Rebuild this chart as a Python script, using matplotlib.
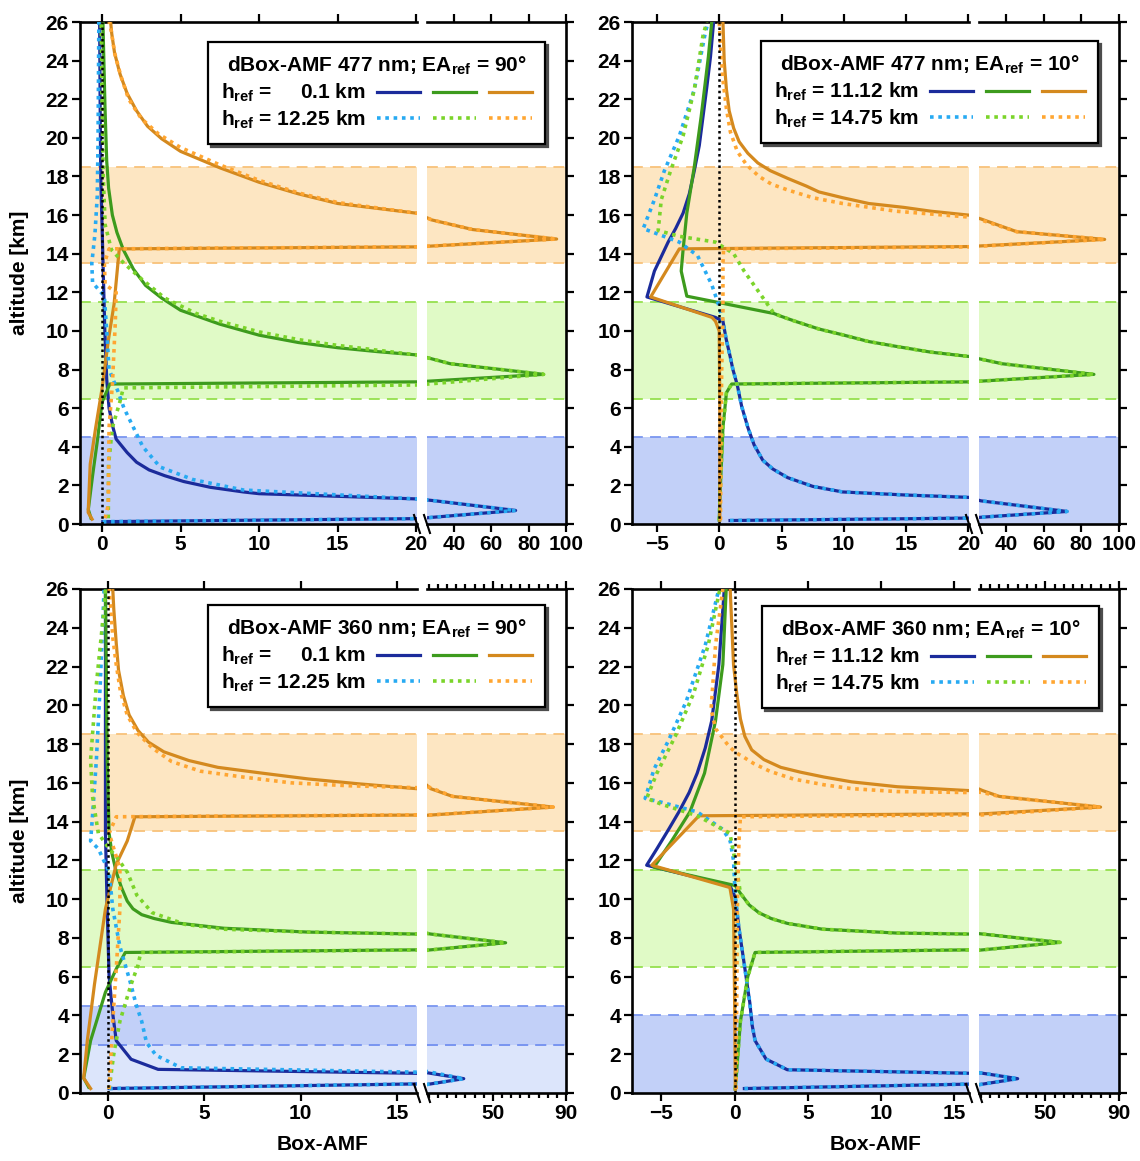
import matplotlib.pyplot as plt
from matplotlib.lines import Line2D
from matplotlib.legend_handler import HandlerTuple
from matplotlib.ticker import MultipleLocator

plt.rcParams['font.family'] = ['Liberation Sans', 'DejaVu Sans']
plt.rcParams['font.weight'] = 'bold'
plt.rcParams['font.size'] = 15
plt.rcParams['mathtext.fontset'] = 'custom'
plt.rcParams['mathtext.rm'] = 'Liberation Sans:bold'
plt.rcParams['mathtext.it'] = 'Liberation Sans:bold'
plt.rcParams['mathtext.bf'] = 'Liberation Sans:bold'
plt.rcParams['axes.linewidth'] = 1.9

# ---------------- data (Box-AMF x, altitude z in km) ----------------
# panel 1: 477 nm, EA_ref = 90 deg, h_ref = 0.1 km (solid) / 12.25 km (dotted)
p1_blue_x = [0.05, 73, 30, 20, 10, 9, 6.9, 5.2, 4.0, 3.0, 2.2, 1.6, 0.9, 0.7, 0.45, 0.3, 0.18, 0.05, -0.08, -0.12, -0.15]
p1_blue_z = [0.12, 0.70, 1.20, 1.30, 1.57, 1.66, 1.90, 2.2, 2.5, 2.8, 3.2, 3.7, 4.4, 5.0, 6.0, 7.5, 10, 14, 18, 22, 26]
p1_ltblue_x = [0.05, 73, 30, 20, 9, 5.8, 3.7, 2.6, 2.0, 1.4, 1.0, 0.45, 0.3, 0.15, -0.6, -0.65, -0.45, -0.3, -0.25, -0.2]
p1_ltblue_z = [0.12, 0.70, 1.20, 1.30, 1.76, 2.3, 2.95, 4.0, 5.0, 6.0, 6.9, 8.0, 10.0, 11.8, 12.5, 13.5, 15.0, 17.0, 20.0, 26.0]
p1_green_x = [-0.7, -0.87, -0.6, -0.28, 0.0, 0.5, 88, 38, 20, 17.5, 15, 12.5, 10, 7.5, 5, 3.8, 2.77, 2.0, 1.36,
              0.95, 0.66, 0.42, 0.3, 0.19, 0.06]
p1_green_z = [0.3, 0.75, 2.5, 4.4, 6.3, 7.25, 7.75, 8.3, 8.76, 8.93, 9.13, 9.4, 9.78, 10.35, 11.07, 11.7, 12.36, 13.2,
              14.2, 15.1, 16.0, 17.4, 18.8, 21.6, 26.0]
p1_ltgreen_x = [0.4, 0.42, 0.66, 1.13, 1.36, 88, 38, 20, 15, 12.5, 10, 7.5, 6, 4, 2.5, 1.4, 0.6, 0.2, 0.08, 0.0, -0.05]
p1_ltgreen_z = [0.3, 3.1, 5.0, 6.3, 7.05, 7.75, 8.3, 8.76, 9.25, 9.55, 9.95, 10.5, 10.9, 11.7, 12.7, 13.5, 14.2, 15.5,
                18.0, 22.0, 26.0]
p1_orange_x = [-0.63, -0.88, -0.75, -0.4, 0.0, 0.42, 0.77, 1.1, 95, 50, 28, 20, 17.5, 15, 12.5, 10, 7.5, 5, 3.8, 2.9,
               2.2, 1.6, 1.15, 0.8, 0.62, 0.55]
p1_orange_z = [0.25, 0.6, 3.1, 5.0, 7.0, 9.6, 11.4, 14.25, 14.76, 15.25, 15.75, 16.1, 16.35, 16.6, 17.1, 17.7, 18.45,
               19.3, 19.95, 20.6, 21.4, 22.3, 23.3, 24.4, 25.4, 26.0]
p1_ltorange_x = [0.2, 0.4, 0.45, 0.66, 0.85, 0.9, 0.2, 0.15, 0.45, 95, 50, 28, 20, 15, 12.5, 10, 7.5, 5, 3.6, 2.5,
                 1.7, 1.2, 0.8, 0.6, 0.45]
p1_ltorange_z = [0.3, 1.0, 5.0, 7.2, 10.5, 12.0, 12.4, 13.5, 14.25, 14.76, 15.25, 15.75, 16.1, 16.65, 17.15, 17.8,
                 18.6, 19.5, 20.2, 21.0, 22.0, 23.2, 24.4, 25.5, 26.0]

# panel 2: 477 nm, EA_ref = 10 deg, h_ref = 11.12 km (solid) / 14.75 km (dotted)
p2_blue_x = [0.87, 72.4, 26.7, 20, 15, 9.9, 7.5, 5.5, 4.3, 3.5, 2.8, 2.3, 1.8, 1.45, 1.1, 0.87, 0.55, 0.3, -0.3,
             -5.8, -5.2, -4.1, -3.5, -2.9, -2.4, -2.0, -1.6, -1.3, -1.0, -0.7, -0.45]
p2_blue_z = [0.18, 0.65, 1.2, 1.38, 1.5, 1.66, 1.95, 2.4, 2.85, 3.3, 4.1, 5.0, 6.1, 7.2, 8.0, 8.7, 9.6, 10.5, 10.7,
             11.76, 13.1, 14.6, 15.3, 16.1, 17.1, 18.3, 19.6, 21.1, 22.6, 24.2, 26]
p2_ltblue_x = [0.87, 72.4, 26.7, 20, 15, 9.9, 7.5, 5.5, 4.3, 3.5, 2.8, 2.3, 1.8, 1.45, 1.1, 0.87, 0.55, 0.3, 0.0,
               -0.6, -1.74, -3.2, -6.1, -5.2, -4.4, -3.2, -2.0, -1.16, -0.9]
p2_ltblue_z = [0.18, 0.65, 1.2, 1.38, 1.5, 1.66, 1.95, 2.4, 2.85, 3.3, 4.1, 5.0, 6.1, 7.2, 8.0, 8.7, 9.6, 10.5, 11.26,
               12.4, 13.9, 14.6, 15.3, 16.8, 18.3, 20.1, 22.5, 25.3, 26]
p2_green_x = [0.0, 0.1, 0.3, 0.58, 1.0, 86.7, 38, 20, 17, 14.2, 12, 9.9, 8, 6.1, 5, 4.4, -2.6, -3.05, -2.9, -2.6,
              -2.0, -1.45, -0.87, -0.6]
p2_green_z = [0.2, 2.0, 5.0, 6.8, 7.25, 7.75, 8.3, 8.68, 8.9, 9.2, 9.45, 9.8, 10.1, 10.5, 10.75, 10.9, 11.8, 13.1,
              14.2, 16.1, 18.5, 21.1, 24.2, 26]
p2_ltgreen_x = [0.0, 0.1, 0.3, 0.58, 1.0, 86.7, 38, 20, 17, 14.2, 12, 9.9, 8, 6.1, 5, 4.4, 3.2, 2.0, 1.16, -0.3,
                -3.2, -4.9, -4.65, -3.9, -2.9, -2.0, -1.3, -1.0]
p2_ltgreen_z = [0.2, 2.0, 5.0, 6.8, 7.25, 7.75, 8.3, 8.68, 8.9, 9.2, 9.45, 9.8, 10.1, 10.5, 10.75, 10.9, 12.0, 13.1,
                14.0, 14.6, 14.9, 15.2, 16.8, 18.3, 20.1, 22.5, 25.3, 26]
p2_orange_x = [0.05, 0.05, 0.0, -0.3, -0.58, -5.5, -3.2, 92.4, 45.7, 26.7, 20, 17, 14.8, 12, 9.9, 8, 7.0, 5.5, 4.1,
               3.1, 2.3, 1.6, 1.16, 0.8, 0.58, 0.4, 0.3]
p2_orange_z = [0.2, 6.0, 10.0, 10.5, 10.7, 11.76, 14.25, 14.74, 15.14, 15.8, 16.0, 16.2, 16.4, 16.6, 16.9, 17.2, 17.5,
               17.9, 18.3, 18.7, 19.2, 19.8, 20.5, 21.4, 22.5, 24.0, 26]
p2_ltorange_x = [0.1, 0.15, 0.2, 0.3, 0.3, 0.35, 92.4, 45.7, 26.7, 20, 14.2, 9.9, 7.5, 5.5, 4.2, 3.2, 2.2, 1.45, 0.9,
                 0.58, 0.3, 0.15, 0.0]
p2_ltorange_z = [0.2, 5.0, 8.0, 11.0, 13.5, 14.25, 14.74, 15.14, 15.75, 15.9, 16.2, 16.6, 16.9, 17.3, 17.6, 18.0, 18.6,
                 19.3, 20.3, 21.5, 23.0, 24.4, 26]

# panel 3: 360 nm, EA_ref = 90 deg, h_ref = 0.1 km (solid) / 12.25 km (dotted)
p3_blue_x = [0.06, 34.1, 2.6, 1.2, 0.43, 0.25, 0.06, -0.04, -0.13, -0.13, -0.13]
p3_blue_z = [0.23, 0.74, 1.22, 1.74, 2.7, 4.07, 6.0, 9.5, 13.4, 19.2, 26]
p3_ltblue_x = [0.06, 34.1, 3.8, 2.5, 2.0, 1.75, 1.45, 1.19, 0.9, 0.62, 0.25, 0.06, -0.5, -0.9, -0.8, -0.6, -0.4, -0.2]
p3_ltblue_z = [0.23, 0.74, 1.3, 1.94, 2.6, 3.7, 4.6, 5.6, 6.6, 7.55, 9.5, 11.4, 12.6, 13.0, 14.3, 17.2, 21.1, 26]
p3_green_x = [-1.0, -1.26, -0.9, -0.13, 0.43, 0.9, 57, 16, 10.4, 6, 3.3, 2.4, 1.75, 1.3, 1.0, 0.7, 0.43, 0.2, 0.06,
              -0.04, -0.13]
p3_green_z = [0.3, 0.77, 2.7, 5.2, 6.4, 7.25, 7.75, 8.2, 8.3, 8.5, 8.8, 9.0, 9.2, 9.5, 9.9, 10.6, 11.4, 12.4, 13.4,
              17.2, 26]
p3_ltgreen_x = [0.06, 0.3, 0.62, 1.2, 1.56, 1.7, 57, 16, 10.4, 6, 4.0, 2.3, 1.5, 1.0, 0.43, 0.06, -0.5, -0.8, -0.9,
                -0.6, -0.2, -0.13]
p3_ltgreen_z = [0.2, 2.0, 3.7, 5.6, 6.6, 7.25, 7.75, 8.2, 8.3, 8.45, 8.7, 9.3, 10.2, 11.4, 12.2, 12.6, 13.4, 15.3,
                17.2, 21.1, 25.0, 26]
p3_orange_x = [-0.9, -1.26, -1.07, -0.7, -0.13, 0.43, 1.0, 1.4, 83, 28, 16, 13, 10.4, 8, 5.7, 4.2, 2.9, 2.1, 1.56,
               1.1, 0.8, 0.55, 0.43, 0.3, 0.25]
p3_orange_z = [0.23, 0.77, 2.7, 5.6, 9.5, 11.8, 13.0, 14.25, 14.75, 15.3, 15.7, 15.95, 16.2, 16.5, 16.8, 17.15, 17.6,
               18.1, 18.7, 19.5, 20.5, 21.8, 23.2, 25.0, 26]
p3_ltorange_x = [0.06, 0.25, 0.43, 0.62, 0.62, 0.43, 0.06, 0.43, 83, 28, 16, 12.5, 9.5, 7, 4.8, 3.3, 2.3, 1.5, 1.0,
                 0.65, 0.43, 0.25, 0.15, 0.06]
p3_ltorange_z = [0.2, 3.7, 6.4, 9.5, 11.6, 12.2, 13.4, 14.25, 14.75, 15.3, 15.75, 15.85, 16.0, 16.3, 16.6, 17.1, 17.8,
                 18.6, 19.5, 20.7, 22.1, 23.5, 25.0, 26]

# panel 4: 360 nm, EA_ref = 10 deg, h_ref = 11.12 km (solid) / 14.75 km (dotted)
p4_blue_x = [0.67, 35, 3.6, 2.15, 1.4, 1.2, 1.04, 0.67, 0.3, 0.05, -0.32, -6.0, -5.3, -4.5, -3.8, -3.1, -2.55, -2.0,
             -1.56, -1.07, -0.7]
p4_blue_z = [0.23, 0.74, 1.2, 1.75, 2.7, 3.5, 4.66, 6.6, 8.5, 10.1, 10.7, 11.75, 12.6, 13.6, 14.5, 15.5, 16.5, 17.8,
             19.2, 22.1, 26]
p4_ltblue_x = [0.67, 35, 3.6, 2.15, 1.4, 1.2, 1.04, 0.67, 0.3, 0.05, -0.07, -0.3, -0.8, -2.55, -5.0, -6.1, -5.5,
               -4.5, -3.3, -2.0, -1.07]
p4_ltblue_z = [0.23, 0.74, 1.2, 1.75, 2.7, 3.5, 4.66, 6.6, 8.5, 10.1, 12.0, 13.0, 13.6, 14.5, 15.0, 15.2, 16.7, 18.2,
               20.2, 23.1, 26]
p4_green_x = [0.05, 0.4, 0.9, 1.4, 58, 16, 11.1, 6, 3.6, 2.5, 1.66, 1.0, 0.4, 0.05, -5.5, -4.3, -3.05, -2.05, -1.3,
              -0.8, -0.57]
p4_green_z = [0.2, 3.7, 6.0, 7.25, 7.77, 8.2, 8.25, 8.45, 8.75, 9.0, 9.3, 9.7, 10.3, 10.7, 11.65, 13.0, 14.5, 16.5,
              19.2, 22.1, 26]
p4_ltgreen_x = [0.05, 0.4, 0.9, 1.4, 58, 16, 11.1, 6, 3.6, 2.5, 1.66, 1.0, 0.4, 0.17, -0.32, -2.55, -5.0, -6.0, -5.3,
                -4.05, -2.8, -1.8, -1.0]
p4_ltgreen_z = [0.2, 3.7, 6.0, 7.25, 7.77, 8.2, 8.25, 8.45, 8.75, 9.0, 9.3, 9.7, 10.3, 11.46, 13.4, 14.3, 14.9, 15.2,
                16.5, 18.4, 20.6, 23.1, 26]
p4_orange_x = [0.05, 0.0, -0.07, -0.32, -5.65, -2.43, 80, 25, 16, 11.1, 8, 6.1, 4.5, 3.15, 2.0, 1.17, 0.7, 0.4, 0.15,
               -0.07, -0.3]
p4_orange_z = [0.2, 5.0, 9.5, 10.6, 11.75, 14.3, 14.75, 15.3, 15.6, 15.8, 16.05, 16.3, 16.55, 16.8, 17.2, 17.7, 18.4,
               19.3, 20.6, 22.1, 26]
p4_ltorange_x = [0.1, 0.15, 0.2, 0.3, 0.4, 80, 25, 16, 11.1, 8, 6.1, 4, 2.4, 1.3, 0.67, 0.0, -0.5, -1.3, -1.6, -1.3,
                 -0.8]
p4_ltorange_z = [0.2, 5.0, 10.0, 13.0, 14.25, 14.75, 15.3, 15.5, 15.55, 15.7, 15.9, 16.2, 16.6, 17.0, 17.3, 17.6,
                 18.0, 18.8, 19.8, 23.1, 26]

# shaded altitude ranges (bottom, top)
bands_a = [(13.5, 18.5, 'orange'), (6.5, 11.5, 'green'), (0, 4.5, 'blue')]
bands_p3 = [(13.5, 18.5, 'orange'), (6.5, 11.5, 'green'), (2.5, 4.5, 'blue'), (0, 2.5, 'paleblue')]
bands_p4 = [(13.5, 18.5, 'orange'), (6.5, 11.5, 'green'), (0, 4.0, 'blue')]

legend_titles = [r'dBox-AMF 477 nm; EA$_{ref}$ = 90°', r'dBox-AMF 477 nm; EA$_{ref}$ = 10°',
                 r'dBox-AMF 360 nm; EA$_{ref}$ = 90°', r'dBox-AMF 360 nm; EA$_{ref}$ = 10°']
href_labels_90 = [r'h$_{ref}$ =     0.1 km', r'h$_{ref}$ = 12.25 km']
href_labels_10 = [r'h$_{ref}$ = 11.12 km', r'h$_{ref}$ = 14.75 km']

# ---------------- styling ----------------
c_blue, c_ltblue = '#1b2b9b', '#27aaf2'
c_green, c_ltgreen = '#3d9b1d', '#7bd42a'
c_orange, c_ltorange = '#d4891e', '#ffa632'
fill_col = {'orange': '#fde6c2', 'green': '#e0fac6', 'blue': '#c2d0f8', 'paleblue': '#dce5fb'}
edge_col = {'orange': '#f8c27a', 'green': '#95e04e', 'blue': '#7a96f0', 'paleblue': '#7a96f0'}
dots = (0, (1.0, 1.3))

W, H = 1140, 1161
fig = plt.figure(figsize=(W / 100, H / 100), dpi=100)


def add_ax(x0, x1, y0, y1):
    return fig.add_axes([x0 / W, 1 - y1 / H, (x1 - x0) / W, (y1 - y0) / H])


def draw_panel(ax_l, ax_r, series, bands):
    for a in (ax_l, ax_r):
        for lo, hi, name in bands:
            a.axhspan(lo, hi, color=fill_col[name], lw=0, zorder=0)
        for lo, hi, name in bands:
            for yv in (lo, hi):
                if 0 < yv < 26:
                    a.axhline(yv, color=edge_col[name], lw=1.3, ls=(0, (6, 4)), zorder=1)
        for x, z, col, dotted in series:
            if dotted:
                a.plot(x, z, color=col, lw=2.6, ls=dots, dash_capstyle='butt', zorder=4)
            else:
                a.plot(x, z, color=col, lw=2.3, zorder=3)
        a.set_ylim(0, 26)
        a.set_yticks(range(0, 27, 2))
    ax_l.axvline(0, color='k', lw=1.8, ls=dots, zorder=5)

    ax_l.spines['right'].set_visible(False)
    ax_r.spines['left'].set_visible(False)
    ax_l.tick_params(which='both', direction='out', top=True, right=False, width=1.6, pad=2)
    ax_l.tick_params(which='major', length=6)
    ax_r.tick_params(which='both', direction='out', top=True, left=False, right=True,
                     labelleft=False, width=1.6, pad=2)
    ax_r.tick_params(which='major', length=6)
    ax_r.tick_params(which='minor', length=3.5)

    # break marks on the bottom axis
    for a, xp in ((ax_l, 1), (ax_r, 0)):
        bb = a.get_position()
        dx = 3 / (bb.width * W)
        dy = 9 / (bb.height * H)
        a.plot([xp - dx, xp + dx], [dy, -dy], transform=a.transAxes, color='k',
               lw=1.5, clip_on=False, zorder=6)


def series_of(bx, bz, lbx, lbz, gx, gz, lgx, lgz, ox, oz, lox, loz):
    return [(bx, bz, c_blue, False), (gx, gz, c_green, False), (ox, oz, c_orange, False),
            (lbx, lbz, c_ltblue, True), (lgx, lgz, c_ltgreen, True), (lox, loz, c_ltorange, True)]


def add_legend(x_left, y_top, title, labels):
    solid = tuple(Line2D([], [], color=c, lw=2.3) for c in (c_blue, c_green, c_orange))
    dotl = tuple(Line2D([], [], color=c, lw=2.6, ls=dots, dash_capstyle='butt')
                 for c in (c_ltblue, c_ltgreen, c_ltorange))
    leg = fig.legend([solid, dotl], labels, loc='upper left',
                     bbox_to_anchor=(x_left / W, 1 - y_top / H), borderaxespad=0,
                     title=title, markerfirst=False,
                     handler_map={tuple: HandlerTuple(ndivide=None, pad=0.63)},
                     handlelength=7.45, handletextpad=0.53, borderpad=0.62,
                     labelspacing=0.22, fancybox=False, edgecolor='k', framealpha=1,
                     shadow={'ox': 2.5, 'oy': -2.5, 'facecolor': '0.3', 'edgecolor': '0.3', 'alpha': 1},
                     fontsize=15, title_fontsize=15)
    leg.get_frame().set_linewidth(1.6)
    return leg


# panel 1
a1l = add_ax(80, 417, 22, 524)
a1r = add_ax(427, 566, 22, 524)
draw_panel(a1l, a1r, series_of(p1_blue_x, p1_blue_z, p1_ltblue_x, p1_ltblue_z, p1_green_x, p1_green_z,
                               p1_ltgreen_x, p1_ltgreen_z, p1_orange_x, p1_orange_z,
                               p1_ltorange_x, p1_ltorange_z), bands_a)
a1l.set_xlim(-1.4, 20.05)
a1l.set_xticks([0, 5, 10, 15, 20])
a1r.set_xlim(25.5, 100)
a1r.set_xticks([40, 60, 80, 100])

# panel 2
a2l = add_ax(632, 969, 22, 524)
a2r = add_ax(979, 1119, 22, 524)
draw_panel(a2l, a2r, series_of(p2_blue_x, p2_blue_z, p2_ltblue_x, p2_ltblue_z, p2_green_x, p2_green_z,
                               p2_ltgreen_x, p2_ltgreen_z, p2_orange_x, p2_orange_z,
                               p2_ltorange_x, p2_ltorange_z), bands_a)
a2l.set_xlim(-7.0, 20.05)
a2l.set_xticks([-5, 0, 5, 10, 15, 20])
a2r.set_xlim(25.7, 100)
a2r.set_xticks([40, 60, 80, 100])

# panel 3
a3l = add_ax(80, 417, 589, 1093)
a3r = add_ax(427, 566, 589, 1093)
draw_panel(a3l, a3r, series_of(p3_blue_x, p3_blue_z, p3_ltblue_x, p3_ltblue_z, p3_green_x, p3_green_z,
                               p3_ltgreen_x, p3_ltgreen_z, p3_orange_x, p3_orange_z,
                               p3_ltorange_x, p3_ltorange_z), bands_p3)
a3l.set_xlim(-1.45, 16.03)
a3l.set_xticks([0, 5, 10, 15])

# panel 4
a4l = add_ax(632, 969, 589, 1093)
a4r = add_ax(979, 1119, 589, 1093)
draw_panel(a4l, a4r, series_of(p4_blue_x, p4_blue_z, p4_ltblue_x, p4_ltblue_z, p4_green_x, p4_green_z,
                               p4_ltgreen_x, p4_ltgreen_z, p4_orange_x, p4_orange_z,
                               p4_ltorange_x, p4_ltorange_z), bands_p4)
a4l.set_xlim(-7.0, 16.0)
a4l.set_xticks([-5, 0, 5, 10, 15])

for a in (a3r, a4r):
    a.set_xticks([10, 50, 90])
    a.xaxis.set_minor_locator(MultipleLocator(5))
    a.set_xlim(14, 90)

# axis titles
fig.text(20 / W, 1 - 273 / H, 'altitude [km]', rotation=90, ha='center', va='center', fontsize=15)
fig.text(20 / W, 1 - 841 / H, 'altitude [km]', rotation=90, ha='center', va='center', fontsize=15)
fig.text(323 / W, 1 - 1145 / H, 'Box-AMF', ha='center', va='center', fontsize=15)
fig.text(876 / W, 1 - 1145 / H, 'Box-AMF', ha='center', va='center', fontsize=15)

# legends
add_legend(208, 42, legend_titles[0], href_labels_90)
add_legend(761, 41, legend_titles[1], href_labels_10)
add_legend(208, 605, legend_titles[2], href_labels_90)
add_legend(762, 606, legend_titles[3], href_labels_10)

fig.savefig('out.png', dpi=100)
